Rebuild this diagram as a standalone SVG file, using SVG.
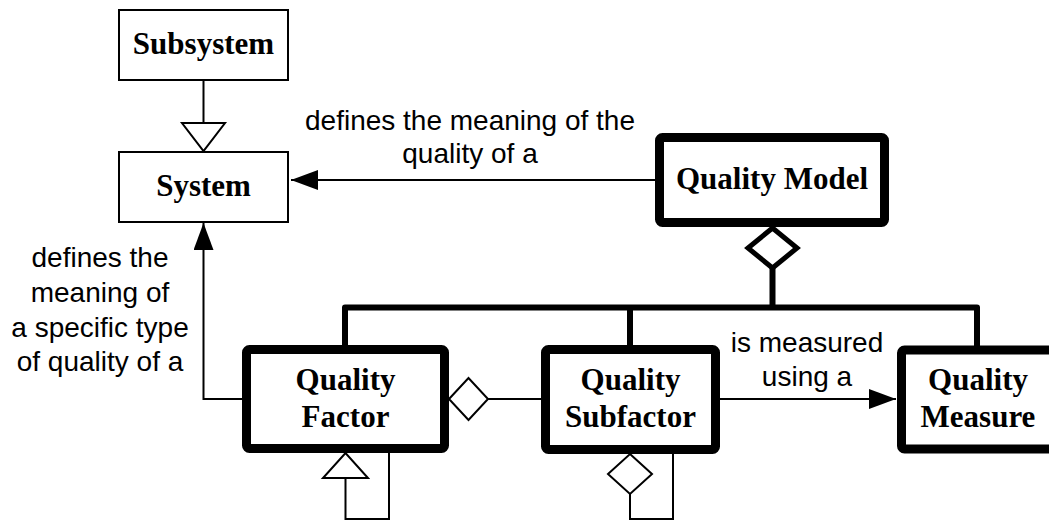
<svg xmlns="http://www.w3.org/2000/svg" width="1049" height="521" viewBox="0 0 1049 521">
  <style>
    .thin { fill: #fff; stroke: #000; stroke-width: 2; }
    .thick { fill: #fff; stroke: #000; stroke-width: 9; }
    .title { font-family: "Liberation Serif", "Times New Roman", serif; font-weight: bold; font-size: 31px; text-anchor: middle; fill: #000; }
    .label { font-family: "Liberation Sans", Arial, sans-serif; font-size: 28px; text-anchor: middle; fill: #000; }
    .line { fill: none; stroke: #000; stroke-width: 2; }
    .bar { fill: none; stroke: #000; stroke-width: 6; stroke-linejoin: round; }
  </style>
  <defs>
    <marker id="arrow" markerUnits="userSpaceOnUse" markerWidth="28" markerHeight="22" refX="27" refY="10" orient="auto">
      <path d="M0,0 L27,10 L0,20 Z" fill="#000"/>
    </marker>
  </defs>

  <rect width="1049" height="521" fill="#fff"/>

  <!-- connectors -->
  <g id="connectors">
    <!-- Subsystem generalizes to System -->
    <line class="line" x1="203.5" y1="80" x2="203.5" y2="123"/>
    <polygon class="thin" points="182,123 225,123 203.5,151"/>

    <!-- Quality Model -> System -->
    <line class="line" x1="655" y1="180" x2="291" y2="180" marker-end="url(#arrow)"/>

    <!-- Quality Factor -> System -->
    <polyline class="line" points="242,399 203.5,399 203.5,223" marker-end="url(#arrow)"/>

    <!-- Quality Model aggregation tree -->
    <polygon points="772.5,228 797,248 772.5,268 748,248" fill="#fff" stroke="#000" stroke-width="5"/>
    <path class="bar" d="M772.5,268 V307.5 M345,345 V307.5 H977 V346 M630,307.5 V345"/>

    <!-- Quality Factor aggregates Quality Subfactor -->
    <polygon class="thin" points="449,399 468.5,378 488,399 468.5,420"/>
    <line class="line" x1="488" y1="399" x2="541" y2="399"/>

    <!-- Quality Subfactor -> Quality Measure -->
    <line class="line" x1="720" y1="399" x2="896" y2="399" marker-end="url(#arrow)"/>

    <!-- Quality Factor self generalization -->
    <polyline class="line" points="345.5,478 345.5,519 389,519 389,453"/>
    <polygon class="thin" points="323,478 368,478 345.5,453"/>

    <!-- Quality Subfactor self aggregation -->
    <polyline class="line" points="630,494 630,519 673,519 673,454"/>
    <polygon class="thin" points="630,454 652,474 630,494 608,474"/>

    <!-- association labels -->
    <text class="label" x="470" y="130">defines the meaning of the</text>
    <text class="label" x="470" y="163">quality of a</text>
    <text class="label" x="100" y="267">defines the</text>
    <text class="label" x="100" y="302">meaning of</text>
    <text class="label" x="100" y="337">a specific type</text>
    <text class="label" x="100" y="371">of quality of a</text>
    <text class="label" x="807" y="352">is measured</text>
    <text class="label" x="807" y="386">using a</text>
  </g>

  <g id="subsystem">
    <rect class="thin" x="119" y="10" width="169" height="70"/>
    <text class="title" x="203.5" y="54">Subsystem</text>
  </g>

  <g id="system">
    <rect class="thin" x="119" y="152" width="169" height="70"/>
    <text class="title" x="203.5" y="196">System</text>
  </g>

  <g id="quality-model">
    <rect class="thick" x="659.5" y="137.5" width="225" height="85" rx="3"/>
    <text class="title" x="772" y="189">Quality Model</text>
  </g>

  <g id="quality-factor">
    <rect class="thick" x="246.5" y="349.5" width="198" height="99" rx="3"/>
    <text class="title" x="345.5" y="390">Quality</text>
    <text class="title" x="345.5" y="427">Factor</text>
  </g>

  <g id="quality-subfactor">
    <rect class="thick" x="545.5" y="349.5" width="170" height="100" rx="3"/>
    <text class="title" x="630.5" y="390">Quality</text>
    <text class="title" x="630.5" y="427">Subfactor</text>
  </g>

  <g id="quality-measure">
    <rect class="thick" x="901.5" y="350" width="153" height="99" rx="3"/>
    <text class="title" x="978" y="390">Quality</text>
    <text class="title" x="978" y="427">Measure</text>
  </g>
</svg>
